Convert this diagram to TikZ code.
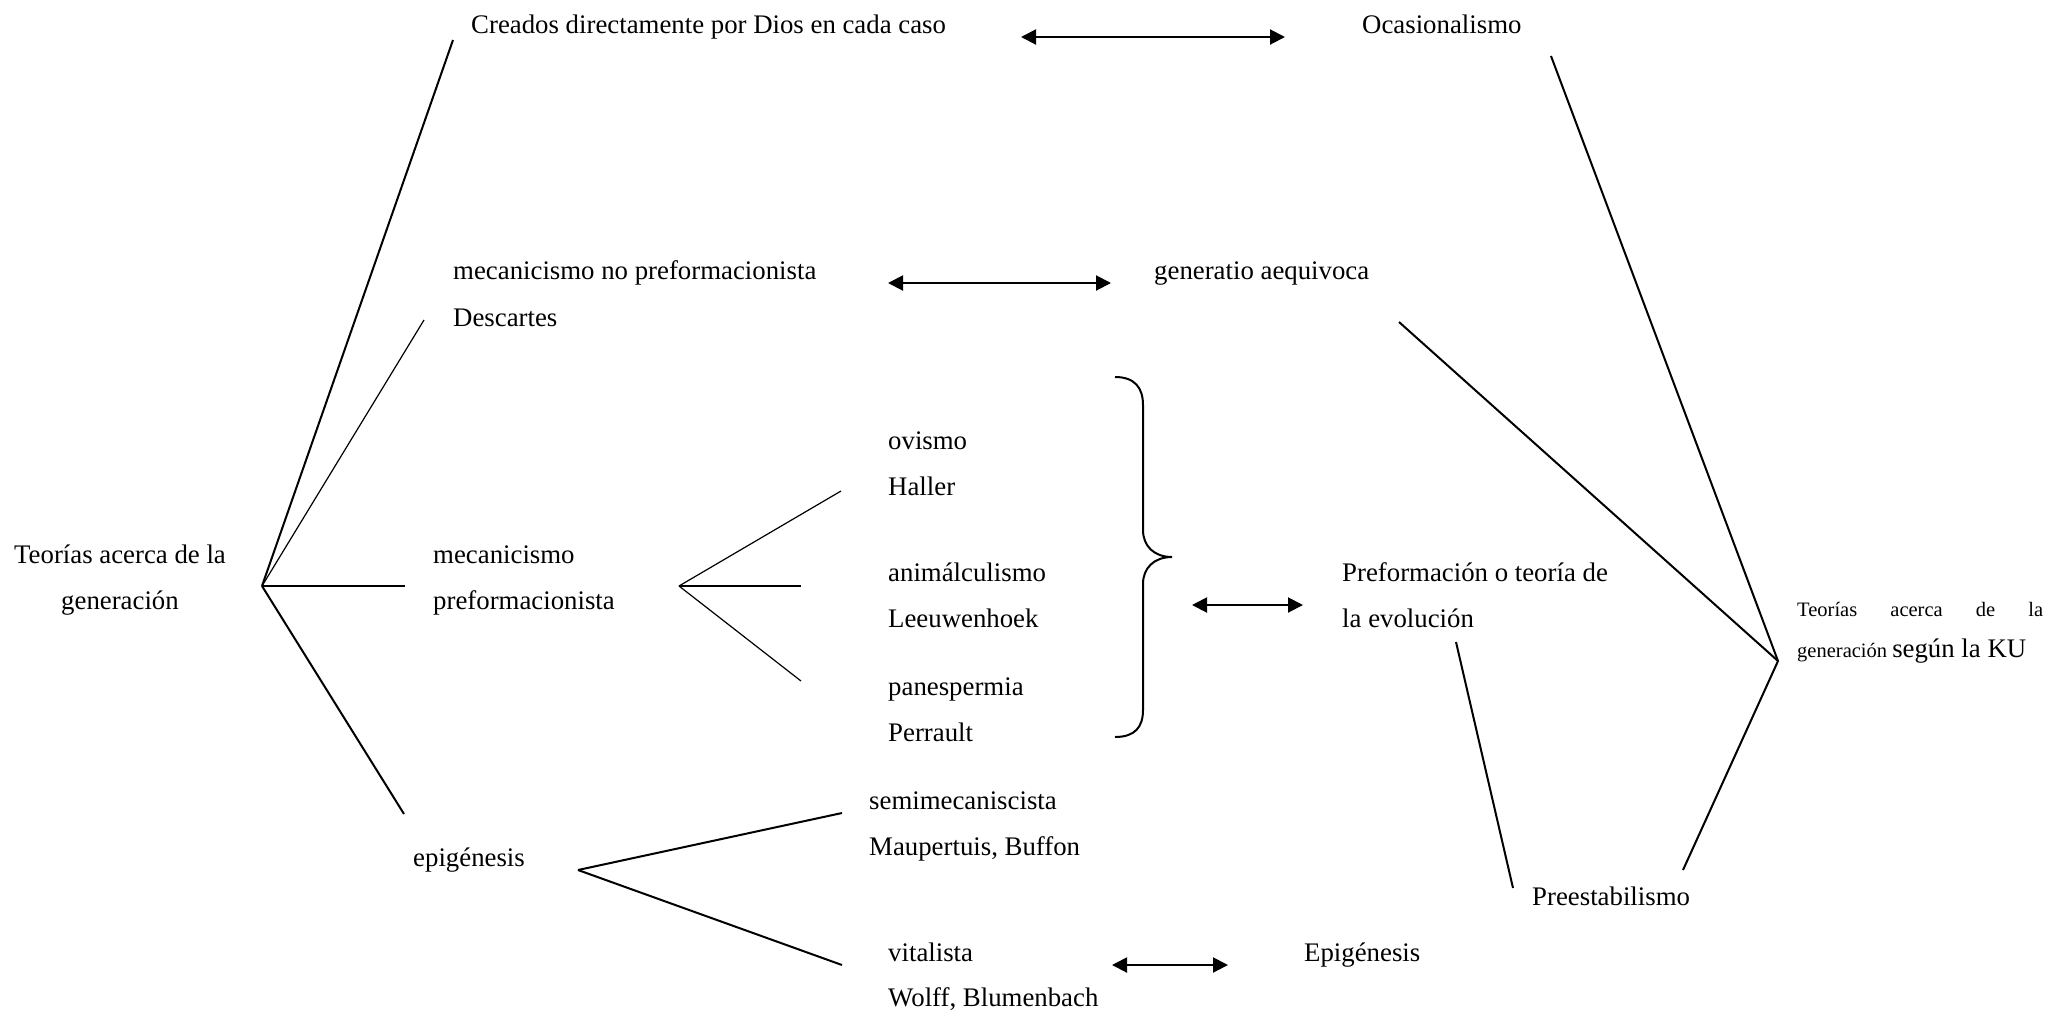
\documentclass[tikz,border=0pt]{standalone}
\usepackage{fontspec}
\setmainfont{Liberation Serif}
\usetikzlibrary{arrows.meta}
\newcommand\fsmain{\fontsize{26.8pt}{46pt}\selectfont}
\newcommand\fssmall{\fontsize{20.5pt}{40pt}\selectfont}
\tikzset{
  lbl/.style={anchor=base west, inner sep=0pt, font=\fsmain},
  thick line/.style={line width=2pt},
  thin line/.style={line width=1.2pt},
  dbl/.style={line width=2pt, {Triangle[length=15pt,width=15pt]}-{Triangle[length=15pt,width=15pt]}},
  bracestyle/.style={line width=2pt}
}
\begin{document}
\begin{tikzpicture}[x=1pt,y=-1pt]
\useasboundingbox (0,0) rectangle (2051,1013);
% texts
\node[lbl] (cre) at (471,33) {Creados directamente por Dios en cada caso};
\node[lbl] (oca) at (1362,33) {Ocasionalismo};
\node[lbl] (mnp) at (453,279) {mecanicismo no preformacionista};
\node[lbl] (des) at (453,326) {Descartes};
\node[lbl] (gen) at (1154,279) {generatio aequivoca};
\node[lbl, anchor=base] (teo1) at (120,563) {Teorías acerca de la};
\node[lbl, anchor=base] (teo2) at (120,609) {generación};
\node[lbl] (mec1) at (433,563) {mecanicismo};
\node[lbl] (mec2) at (433,609) {preformacionista};
\node[lbl] (ovi) at (888,449) {ovismo};
\node[lbl] (hal) at (888,495) {Haller};
\node[lbl] (ani) at (888,581) {animálculismo};
\node[lbl] (lee) at (888,627) {Leeuwenhoek};
\node[lbl] (pan) at (888,695) {panespermia};
\node[lbl] (per) at (888,741) {Perrault};
\node[lbl] (pre1) at (1342,581) {Preformación o teoría de};
\node[lbl] (pre2) at (1342,627) {la evolución};
\node[lbl] (epi) at (413,866) {epigénesis};
\node[lbl] (sem) at (869,809) {semimecaniscista};
\node[lbl] (mau) at (869,855) {Maupertuis, Buffon};
\node[lbl] (vit) at (888,961) {vitalista};
\node[lbl] (wol) at (888,1006) {Wolff, Blumenbach};
\node[lbl] (Epi) at (1304,961) {Epigénesis};
\node[lbl] (pes) at (1532,905) {Preestabilismo};
\node[lbl, font=\fssmall] (ku1) at (1797,616) {\makebox[246pt][s]{Teorías acerca de la}};
\node[lbl, font=\fssmall] (ku2) at (1797,657) {generación {\fsmain según la KU}};
% coordinates
\coordinate (hubL) at (262,586);
\coordinate (cCre) at (453,40);
\coordinate (cDes) at (424,320);
\coordinate (cMec) at (405,586);
\coordinate (cEpi) at (404,814);
\coordinate (hubM) at (679,586);
\coordinate (mA) at (841,491);
\coordinate (mB) at (801,586);
\coordinate (mC) at (801,681);
\coordinate (hubE) at (578,870);
\coordinate (eA) at (842,813);
\coordinate (eB) at (842,965);
\coordinate (hubR) at (1778,661);
\coordinate (rO) at (1551,56);
\coordinate (rG) at (1399,322);
\coordinate (rP) at (1683,870);
\coordinate (pT) at (1456,642);
\coordinate (pB) at (1513,888);
\coordinate (a1L) at (1021,37);
\coordinate (a1R) at (1285,37);
\coordinate (a2L) at (888,283);
\coordinate (a2R) at (1111,283);
\coordinate (a3L) at (1192,605);
\coordinate (a3R) at (1303,605);
\coordinate (a4L) at (1112,965);
\coordinate (a4R) at (1228,965);
% lines
\draw[thick line] (hubL) -- (cCre);
\draw[thin line] (hubL) -- (cDes);
\draw[thick line] (hubL) -- (cMec);
\draw[thick line] (hubL) -- (cEpi);
\draw[thin line] (hubM) -- (mA);
\draw[thin line] (hubM) -- (mB);
\draw[thin line] (hubM) -- (mC);
\draw[thick line] (hubE) -- (eA);
\draw[thick line] (hubE) -- (eB);
\draw[thick line] (hubR) -- (rO);
\draw[thick line] (hubR) -- (rG);
\draw[thick line] (hubR) -- (rP);
\draw[thick line] (pT) -- (pB);
% arrows
\draw[dbl] (a1L) -- (a1R);
\draw[dbl] (a2L) -- (a2R);
\draw[dbl] (a3L) -- (a3R);
\draw[dbl] (a4L) -- (a4R);
% brace
\draw[bracestyle] (1115,377) .. controls (1135,377) and (1143,388) .. (1143,405)
  -- (1143,530) .. controls (1143,546) and (1154,557) .. (1172,557)
  .. controls (1154,557) and (1143,568) .. (1143,584)
  -- (1143,710) .. controls (1143,727) and (1135,737) .. (1115,737);
\end{tikzpicture}
\end{document}
